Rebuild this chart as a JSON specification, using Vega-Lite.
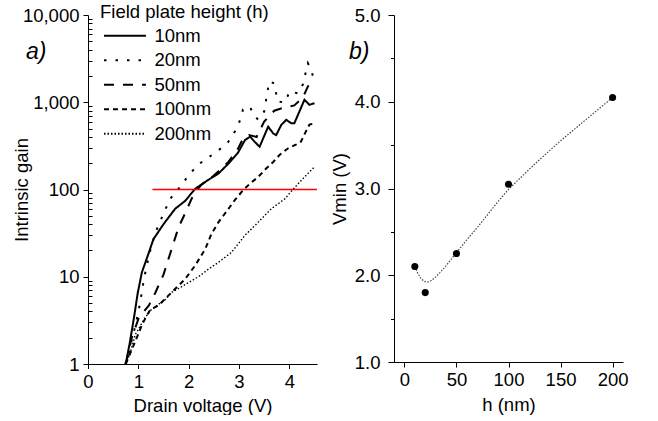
{
  "$schema": "https://vega.github.io/schema/vega-lite/v6.json",
  "background": "white",
  "padding": {"left": 12, "top": 3, "right": 0, "bottom": 0},
  "spacing": 11,
  "config": {
    "view": {"stroke": null},
    "font": "Liberation Sans",
    "axis": {
      "grid": false, "domainColor": "black", "domainWidth": 1, "tickColor": "black", "tickWidth": 1,
      "labelColor": "black", "titleColor": "black", "labelFont": "Liberation Sans", "titleFont": "Liberation Sans",
      "labelFontSize": 18.5, "titleFontSize": 18.5, "titleFontWeight": "normal", "labelFlush": false, "labelOverlap": false
    }
  },
  "datasets": {
    "gain": [
      {"h": "10nm", "v": 0.75, "g": 1}, {"h": "10nm", "v": 0.83, "g": 1.75}, {"h": "10nm", "v": 0.91, "g": 3.3},
      {"h": "10nm", "v": 0.99, "g": 6.6}, {"h": "10nm", "v": 1.07, "g": 11.2}, {"h": "10nm", "v": 1.21, "g": 19},
      {"h": "10nm", "v": 1.30, "g": 27}, {"h": "10nm", "v": 1.50, "g": 40}, {"h": "10nm", "v": 1.73, "g": 60},
      {"h": "10nm", "v": 1.93, "g": 74}, {"h": "10nm", "v": 2.13, "g": 102}, {"h": "10nm", "v": 2.39, "g": 129},
      {"h": "10nm", "v": 2.59, "g": 152}, {"h": "10nm", "v": 2.79, "g": 198}, {"h": "10nm", "v": 2.98, "g": 264},
      {"h": "10nm", "v": 3.12, "g": 369}, {"h": "10nm", "v": 3.22, "g": 403}, {"h": "10nm", "v": 3.31, "g": 353},
      {"h": "10nm", "v": 3.41, "g": 309}, {"h": "10nm", "v": 3.48, "g": 385}, {"h": "10nm", "v": 3.58, "g": 525},
      {"h": "10nm", "v": 3.68, "g": 439}, {"h": "10nm", "v": 3.74, "g": 421}, {"h": "10nm", "v": 3.84, "g": 550},
      {"h": "10nm", "v": 3.94, "g": 628}, {"h": "10nm", "v": 4.04, "g": 574}, {"h": "10nm", "v": 4.10, "g": 574},
      {"h": "10nm", "v": 4.20, "g": 782}, {"h": "10nm", "v": 4.30, "g": 1067}, {"h": "10nm", "v": 4.40, "g": 935},
      {"h": "10nm", "v": 4.50, "g": 975},

      {"h": "20nm", "v": 0.74, "g": 1}, {"h": "20nm", "v": 0.81, "g": 1.34}, {"h": "20nm", "v": 0.87, "g": 1.89},
      {"h": "20nm", "v": 0.94, "g": 2.74}, {"h": "20nm", "v": 1.01, "g": 4.2}, {"h": "20nm", "v": 1.07, "g": 6.6},
      {"h": "20nm", "v": 1.11, "g": 9.4}, {"h": "20nm", "v": 1.17, "g": 13.5}, {"h": "20nm", "v": 1.21, "g": 17.6},
      {"h": "20nm", "v": 1.34, "g": 32}, {"h": "20nm", "v": 1.44, "g": 44}, {"h": "20nm", "v": 1.63, "g": 78},
      {"h": "20nm", "v": 1.83, "g": 107}, {"h": "20nm", "v": 2.00, "g": 146}, {"h": "20nm", "v": 2.19, "g": 193},
      {"h": "20nm", "v": 2.38, "g": 231}, {"h": "20nm", "v": 2.56, "g": 270}, {"h": "20nm", "v": 2.79, "g": 353},
      {"h": "20nm", "v": 2.98, "g": 525}, {"h": "20nm", "v": 3.08, "g": 825}, {"h": "20nm", "v": 3.22, "g": 893},
      {"h": "20nm", "v": 3.28, "g": 722}, {"h": "20nm", "v": 3.38, "g": 633}, {"h": "20nm", "v": 3.50, "g": 782},
      {"h": "20nm", "v": 3.60, "g": 1734}, {"h": "20nm", "v": 3.70, "g": 1645}, {"h": "20nm", "v": 3.77, "g": 1020},
      {"h": "20nm", "v": 3.91, "g": 993}, {"h": "20nm", "v": 4.01, "g": 1340}, {"h": "20nm", "v": 4.17, "g": 1262},
      {"h": "20nm", "v": 4.27, "g": 1603}, {"h": "20nm", "v": 4.37, "g": 2800}, {"h": "20nm", "v": 4.43, "g": 2388},
      {"h": "20nm", "v": 4.50, "g": 1734},

      {"h": "50nm", "v": 0.75, "g": 1}, {"h": "50nm", "v": 0.87, "g": 2.0}, {"h": "50nm", "v": 1.01, "g": 3.4},
      {"h": "50nm", "v": 1.21, "g": 4.7}, {"h": "50nm", "v": 1.34, "g": 6.6}, {"h": "50nm", "v": 1.50, "g": 10.6},
      {"h": "50nm", "v": 1.64, "g": 19}, {"h": "50nm", "v": 1.80, "g": 37}, {"h": "50nm", "v": 1.94, "g": 55},
      {"h": "50nm", "v": 2.09, "g": 86}, {"h": "50nm", "v": 2.25, "g": 113}, {"h": "50nm", "v": 2.49, "g": 143},
      {"h": "50nm", "v": 2.79, "g": 207}, {"h": "50nm", "v": 2.98, "g": 293}, {"h": "50nm", "v": 3.08, "g": 382},
      {"h": "50nm", "v": 3.20, "g": 420}, {"h": "50nm", "v": 3.35, "g": 400}, {"h": "50nm", "v": 3.50, "g": 600},
      {"h": "50nm", "v": 3.70, "g": 800}, {"h": "50nm", "v": 3.90, "g": 870}, {"h": "50nm", "v": 4.10, "g": 920},
      {"h": "50nm", "v": 4.27, "g": 1135}, {"h": "50nm", "v": 4.37, "g": 1520}, {"h": "50nm", "v": 4.45, "g": 1700},

      {"h": "100nm", "v": 0.75, "g": 1}, {"h": "100nm", "v": 0.87, "g": 1.46}, {"h": "100nm", "v": 1.01, "g": 2.28},
      {"h": "100nm", "v": 1.07, "g": 2.8}, {"h": "100nm", "v": 1.17, "g": 3.6}, {"h": "100nm", "v": 1.24, "g": 4.2},
      {"h": "100nm", "v": 1.40, "g": 4.7}, {"h": "100nm", "v": 1.66, "g": 6.6}, {"h": "100nm", "v": 1.93, "g": 9.4},
      {"h": "100nm", "v": 2.13, "g": 13.5}, {"h": "100nm", "v": 2.33, "g": 20.8}, {"h": "100nm", "v": 2.45, "g": 30.7},
      {"h": "100nm", "v": 2.59, "g": 42}, {"h": "100nm", "v": 2.79, "g": 60}, {"h": "100nm", "v": 2.92, "g": 76},
      {"h": "100nm", "v": 3.08, "g": 98}, {"h": "100nm", "v": 3.22, "g": 117}, {"h": "100nm", "v": 3.38, "g": 139},
      {"h": "100nm", "v": 3.54, "g": 174}, {"h": "100nm", "v": 3.68, "g": 207}, {"h": "100nm", "v": 3.81, "g": 250},
      {"h": "100nm", "v": 3.97, "g": 295}, {"h": "100nm", "v": 4.13, "g": 326}, {"h": "100nm", "v": 4.23, "g": 353},
      {"h": "100nm", "v": 4.31, "g": 440}, {"h": "100nm", "v": 4.40, "g": 554}, {"h": "100nm", "v": 4.50, "g": 574},

      {"h": "200nm", "v": 0.75, "g": 1}, {"h": "200nm", "v": 0.84, "g": 1.34}, {"h": "200nm", "v": 0.94, "g": 2.18},
      {"h": "200nm", "v": 1.04, "g": 2.74}, {"h": "200nm", "v": 1.11, "g": 3.24}, {"h": "200nm", "v": 1.21, "g": 3.87},
      {"h": "200nm", "v": 1.26, "g": 4.2}, {"h": "200nm", "v": 1.40, "g": 4.83}, {"h": "200nm", "v": 1.54, "g": 5.5},
      {"h": "200nm", "v": 1.66, "g": 6.6}, {"h": "200nm", "v": 1.83, "g": 7.5}, {"h": "200nm", "v": 2.00, "g": 8.6},
      {"h": "200nm", "v": 2.23, "g": 10.3}, {"h": "200nm", "v": 2.39, "g": 12.2}, {"h": "200nm", "v": 2.59, "g": 14.6},
      {"h": "200nm", "v": 2.85, "g": 19}, {"h": "200nm", "v": 3.12, "g": 29.9}, {"h": "200nm", "v": 3.38, "g": 42},
      {"h": "200nm", "v": 3.64, "g": 60}, {"h": "200nm", "v": 3.91, "g": 78}, {"h": "200nm", "v": 4.07, "g": 100},
      {"h": "200nm", "v": 4.30, "g": 139}, {"h": "200nm", "v": 4.50, "g": 182}
    ],
    "ref": [{"x": 1.28, "x2": 4.55, "y": 100}],
    "vmin": [
      {"h": 10, "vmin": 2.1}, {"h": 20, "vmin": 1.8}, {"h": 50, "vmin": 2.25}, {"h": 100, "vmin": 3.05}, {"h": 200, "vmin": 4.05}
    ],
    "fit": [
      {"h": 10, "vmin": 2.1}, {"h": 13, "vmin": 2.02}, {"h": 16, "vmin": 1.96}, {"h": 19, "vmin": 1.93},
      {"h": 22, "vmin": 1.92}, {"h": 26, "vmin": 1.94}, {"h": 30, "vmin": 1.98}, {"h": 35, "vmin": 2.04},
      {"h": 40, "vmin": 2.11}, {"h": 50, "vmin": 2.26}, {"h": 60, "vmin": 2.41}, {"h": 70, "vmin": 2.55},
      {"h": 80, "vmin": 2.7}, {"h": 90, "vmin": 2.85}, {"h": 100, "vmin": 2.99}, {"h": 125, "vmin": 3.28},
      {"h": 150, "vmin": 3.55}, {"h": 175, "vmin": 3.8}, {"h": 200, "vmin": 4.05}
    ]
  },
  "hconcat": [
    {
      "width": 229,
      "height": 349,
      "title": {"text": "a)", "anchor": "start", "frame": "group", "orient": "top", "offset": 0, "baseline": "alphabetic",
        "dx": -62, "dy": 76, "fontSize": 23, "fontStyle": "italic", "fontWeight": "normal", "font": "Liberation Sans", "color": "black"},
      "layer": [
        {
          "data": {"name": "gain"},
          "mark": {"type": "line", "color": "black", "strokeCap": "butt"},
          "encoding": {
            "x": {"field": "v", "type": "quantitative", "scale": {"domain": [0, 4.55], "nice": false, "zero": false},
              "axis": {"title": "Drain voltage (V)", "values": [0, 0.5, 1, 1.5, 2, 2.5, 3, 3.5, 4, 4.5],
                "labelExpr": "datum.value % 1 === 0 ? datum.label : ''",
                "tickSize": {"condition": {"test": "datum.value % 1 === 0", "value": 4.5}, "value": 2.5},
                "labelPadding": 3.5, "titlePadding": 6}},
            "y": {"field": "g", "type": "quantitative", "scale": {"type": "log", "domain": [1, 10000], "nice": false},
              "axis": {"title": "Intrinsic gain",
                "values": [1, 2, 3, 4, 5, 6, 7, 8, 9, 10, 20, 30, 40, 50, 60, 70, 80, 90, 100, 200, 300, 400, 500, 600, 700, 800, 900, 1000, 2000, 3000, 4000, 5000, 6000, 7000, 8000, 9000, 10000],
                "labelExpr": "indexof([1, 10, 100, 1000, 10000], datum.value) >= 0 ? format(datum.value, ',') : ''",
                "tickSize": {"condition": {"test": "indexof([1, 10, 100, 1000, 10000], datum.value) >= 0", "value": 5}, "value": -4},
                "labelPadding": 4, "titlePadding": -9}},
            "strokeDash": {"field": "h", "type": "nominal",
              "scale": {"domain": ["10nm", "20nm", "50nm", "100nm", "200nm"], "range": [[1, 0], [2.5, 9], [10, 9], [5, 4], [1.5, 2]]},
              "legend": {"title": "Field plate height (h)", "orient": "none", "legendX": 12, "legendY": -12,
                "symbolType": "M-1,0H7", "symbolSize": 110, "symbolStrokeWidth": 2, "symbolStrokeColor": "black",
                "labelFontSize": 18.5, "titleFontSize": 18.5, "titleFontWeight": "normal", "labelFont": "Liberation Sans",
                "titleFont": "Liberation Sans", "labelColor": "black", "titleColor": "black", "labelOffset": 36,
                "rowPadding": 5.5, "titlePadding": 5, "padding": 0}},
            "strokeWidth": {"condition": {"test": "datum.h === '200nm'", "value": 1.4}, "value": 2}
          }
        },
        {
          "data": {"name": "ref"},
          "mark": {"type": "rule", "color": "#ff0000", "strokeWidth": 1.5},
          "encoding": {
            "x": {"field": "x", "type": "quantitative"},
            "x2": {"field": "x2"},
            "y": {"field": "y", "type": "quantitative"}
          }
        }
      ]
    },
    {
      "width": 229,
      "height": 347,
      "title": {"text": "b)", "anchor": "start", "frame": "group", "orient": "top", "offset": 0, "baseline": "alphabetic",
        "dx": -45, "dy": 76, "fontSize": 23, "fontStyle": "italic", "fontWeight": "normal", "font": "Liberation Sans", "color": "black"},
      "layer": [
        {
          "data": {"name": "fit"},
          "mark": {"type": "line", "color": "#444444", "strokeWidth": 1.2, "strokeDash": [1.5, 1.5]},
          "encoding": {
            "x": {"field": "h", "type": "quantitative", "scale": {"domain": [-10, 210], "nice": false, "zero": false},
              "axis": {"title": "h (nm)", "values": [0, 25, 50, 75, 100, 125, 150, 175, 200],
                "labelExpr": "datum.value % 50 === 0 ? datum.label : ''",
                "tickSize": {"condition": {"test": "datum.value % 50 === 0", "value": 5}, "value": 3},
                "labelPadding": 3, "titlePadding": 7}},
            "y": {"field": "vmin", "type": "quantitative", "scale": {"domain": [1, 5], "nice": false, "zero": false},
              "axis": {"title": "Vmin (V)", "values": [1, 1.5, 2, 2.5, 3, 3.5, 4, 4.5, 5],
                "labelExpr": "datum.value % 1 === 0 ? format(datum.value, '.1f') : ''",
                "tickSize": {"condition": {"test": "datum.value % 1 === 0", "value": 6}, "value": 3.5},
                "labelPadding": 8, "titlePadding": 5}}
          }
        },
        {
          "data": {"name": "vmin"},
          "mark": {"type": "point", "filled": true, "color": "black", "size": 50, "opacity": 1},
          "encoding": {
            "x": {"field": "h", "type": "quantitative"},
            "y": {"field": "vmin", "type": "quantitative"}
          }
        }
      ]
    }
  ]
}
